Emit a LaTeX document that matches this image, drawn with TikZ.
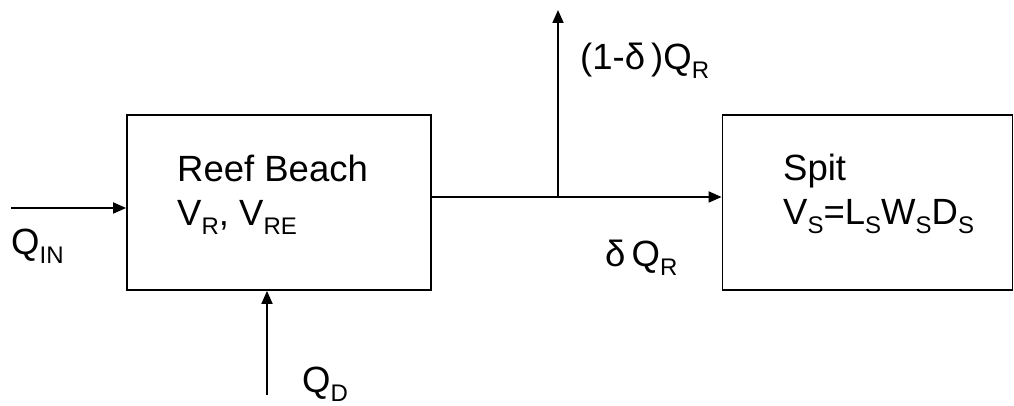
\documentclass[tikz,border=0pt]{standalone}
\usepackage{fontspec}
\setmainfont{Liberation Sans}
\usetikzlibrary{arrows.meta}
\newcommand\lowsub[1]{\raisebox{-8.5pt}{\fontsize{24pt}{24pt}\selectfont #1}}
\tikzset{
  box/.style={draw, line width=1.8pt, minimum height=175pt, inner sep=0pt},
  flow/.style={line width=1.8pt, -{Triangle[length=13pt,width=11pt]}},
  lbl/.style={anchor=base west, inner sep=0pt, font=\fontsize{36.5pt}{40pt}\selectfont},
}
\begin{document}
\begin{tikzpicture}[x=1pt,y=1pt]
\useasboundingbox (0,0) rectangle (1014,406);
% boxes
\node[box, minimum width=304pt] (lb) at (279,203.5) {};
\node[box, minimum width=290pt] (rb) at (867.5,203.5) {};
% texts
\node[lbl] (t1) at (177,224) {Reef Beach};
\node[lbl] (t2) at (177,180) {V\lowsub{R}, V\lowsub{RE}};
\node[lbl] (t3) at (783,225) {Spit};
\node[lbl] (t4) at (783,181) {V\lowsub{S}=L\lowsub{S}W\lowsub{S}D\lowsub{S}};
\node[lbl] (qin) at (11,151) {Q\lowsub{IN}};
\node[lbl] (qd) at (302,13) {Q\lowsub{D}};
\node[lbl] (qup) at (580,336) {(1-δ\,)Q\lowsub{R}};
\node[lbl] (qr) at (605,139) {δ\,Q\lowsub{R}};
% coordinates
\coordinate (a0) at (11,198);
\coordinate (d0) at (267,11);
\coordinate (m0) at (431,209);
\coordinate (j) at (558,209);
\coordinate (up) at (558,396);
% connectors
\draw[flow] (a0) -- (a0 -| lb.west);
\draw[flow] (d0) -- (d0 |- lb.south);
\draw[flow] (m0 -| lb.east) -- (m0 -| rb.west);
\draw[flow] (j) -- (up);
\end{tikzpicture}
\end{document}
